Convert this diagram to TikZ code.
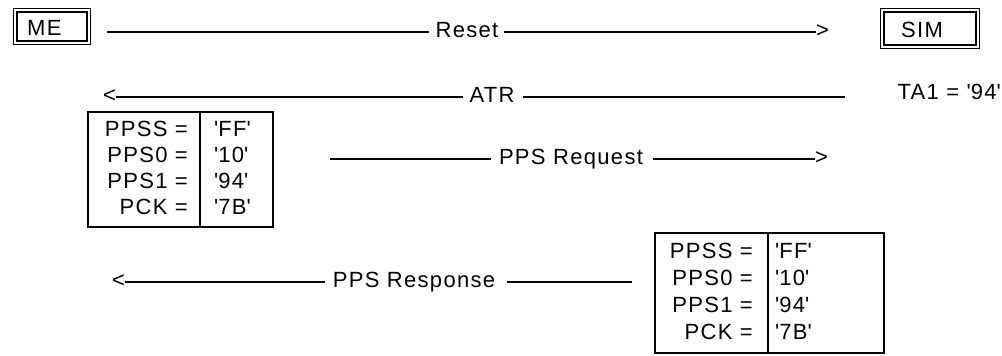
\documentclass[tikz,border=0pt]{standalone}
\usepackage{fontspec}
\setmainfont[LetterSpace=6]{Liberation Sans}
\newcommand{\sq}{\textquotesingle}
\begin{document}
\begin{tikzpicture}[x=1pt,y=-1pt,
  txt/.style={inner sep=0pt, font=\fontsize{22}{26}\selectfont, anchor=base},
  ln/.style={line width=1.6pt},
  dbox/.style={draw, double, double distance=2pt, line width=1.3pt, inner sep=0pt},
  tbl/.style={line width=1.8pt}]
\useasboundingbox (0,0) rectangle (1002,356);
% ME and SIM boxes
\node[dbox, minimum width=73.4pt, minimum height=32.4pt] (mebox) at (52,26.5) {};
\node[txt, anchor=base west] (me) at (27,35) {ME};
\node[dbox, minimum width=95.4pt, minimum height=36.4pt] (simbox) at (930,28.5) {};
\node[txt, anchor=base west] (sim) at (901,37) {SIM};
% Reset
\node[txt] (reset) at (467,37) {Reset};
\coordinate (r0) at (107,32);
\node[txt, anchor=base west] (rgt) at (816,37) {>};
\draw[ln] (r0) -- ([xshift=-6pt]reset.west |- r0);
\draw[ln] ([xshift=5pt]reset.east |- r0) -- (rgt.west |- r0);
% ATR
\node[txt] (atr) at (492,102) {ATR};
\node[txt, anchor=base west] (alt) at (103,102) {<};
\coordinate (a1) at (845,97);
\draw[ln] (alt.east |- a1) -- ([xshift=-6pt]atr.west |- a1);
\draw[ln] ([xshift=8pt]atr.east |- a1) -- (a1);
\node[txt, anchor=base east] (ta1) at (1001,99) {TA1 = \sq94\sq};
% left table
\draw[tbl] (88,112) rectangle (273,227);
\draw[tbl] (200,112) -- (200,227);
\node[txt, anchor=base east] (l1) at (188,136) {PPSS =};
\node[txt, anchor=base east] (l2) at (188,162) {PPS0 =};
\node[txt, anchor=base east] (l3) at (188,188) {PPS1 =};
\node[txt, anchor=base east] (l4) at (188,214) {PCK =};
\node[txt, anchor=base west] (v1) at (214,136) {\sq FF\sq};
\node[txt, anchor=base west] (v2) at (214,162) {\sq10\sq};
\node[txt, anchor=base west] (v3) at (214,188) {\sq94\sq};
\node[txt, anchor=base west] (v4) at (214,214) {\sq7B\sq};
% PPS Request
\node[txt] (req) at (571,164) {PPS Request};
\coordinate (q0) at (330,159);
\node[txt, anchor=base west] (qgt) at (815,164) {>};
\draw[ln] (q0) -- ([xshift=-8pt]req.west |- q0);
\draw[ln] ([xshift=10pt]req.east |- q0) -- (qgt.west |- q0);
% PPS Response
\node[txt] (resp) at (414,287) {PPS Response};
\node[txt, anchor=base west] (plt) at (112,287) {<};
\coordinate (p1) at (632,282);
\draw[ln] (plt.east |- p1) -- ([xshift=-8pt]resp.west |- p1);
\draw[ln] ([xshift=12pt]resp.east |- p1) -- (p1);
% bottom table
\draw[tbl] (655,233) rectangle (884,353);
\draw[tbl] (768,233) -- (768,353);
\node[txt, anchor=base east] (m1) at (753,258) {PPSS =};
\node[txt, anchor=base east] (m2) at (753,285) {PPS0 =};
\node[txt, anchor=base east] (m3) at (753,312) {PPS1 =};
\node[txt, anchor=base east] (m4) at (753,339) {PCK =};
\node[txt, anchor=base west] (w1) at (775,258) {\sq FF\sq};
\node[txt, anchor=base west] (w2) at (775,285) {\sq10\sq};
\node[txt, anchor=base west] (w3) at (775,312) {\sq94\sq};
\node[txt, anchor=base west] (w4) at (775,339) {\sq7B\sq};
\end{tikzpicture}
\end{document}
